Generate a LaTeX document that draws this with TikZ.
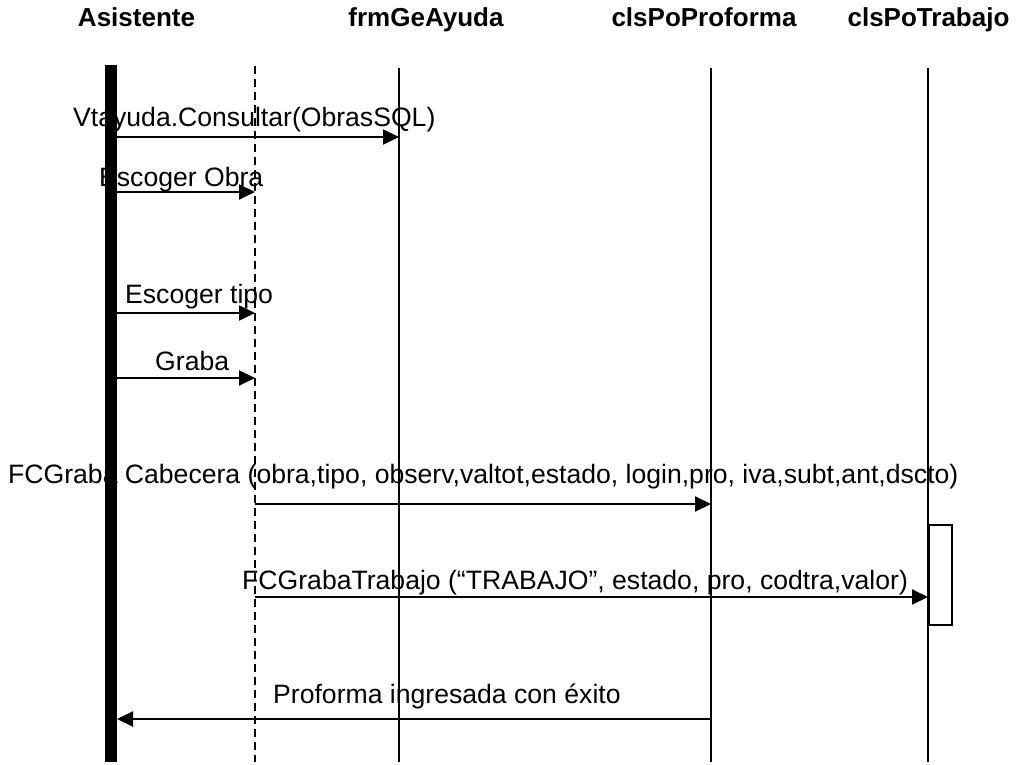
\documentclass[tikz,border=0pt]{standalone}
\usepackage{fontspec}
\setmainfont{Liberation Sans}
\usetikzlibrary{arrows.meta}
\begin{document}
\begin{tikzpicture}[x=1pt,y=-1pt,
  title/.style={font=\fontsize{26}{30}\selectfont\bfseries,anchor=base,inner sep=0pt},
  msg/.style={font=\fontsize{26.6}{30}\selectfont,anchor=base west,inner sep=0pt},
  life/.style={line width=1.5pt},
  dashlife/.style={line width=1.5pt,dash pattern=on 8pt off 5pt},
  call/.style={line width=2pt,-{Triangle[length=16pt,width=15pt]}},
  actbox/.style={draw,line width=1.5pt,fill=white,minimum width=23pt,minimum height=100pt,inner sep=0pt,anchor=north west}]
\useasboundingbox (0,0) rectangle (1021,765);
% titles
\node[title] (tA) at (136.5,27) {Asistente};
\node[title] (tF) at (426,27) {frmGeAyuda};
\node[title] (tP) at (704,27) {clsPoProforma};
\node[title] (tT) at (928.5,27) {clsPoTrabajo};
% message texts
\node[msg] (m1) at (73,127) {Vtayuda.Consultar(ObrasSQL)};
\node[msg] (m2) at (99,186) {Escoger Obra};
\node[msg] (m3) at (125,303) {Escoger tipo};
\node[msg] (m4) at (155,370) {Graba};
\node[msg] (m5) at (8,483) {FCGraba Cabecera (obra,tipo, observ,valtot,estado, login,pro, iva,subt,ant,dscto)};
\node[msg] (m6) at (242,589) {FCGrabaTrabajo (“TRABAJO”, estado, pro, codtra,valor)};
\node[msg] (m7) at (273,703) {Proforma ingresada con éxito};
% lifeline ends
\coordinate (Atop) at (111,65);   \coordinate (Abot) at (111,762);
\coordinate (Dtop) at (255,66);   \coordinate (Dbot) at (255,762);
\coordinate (Ftop) at (399,68);   \coordinate (Fbot) at (399,762);
\coordinate (Ptop) at (711,68);   \coordinate (Pbot) at (711,762);
\coordinate (Ttop) at (928,68);   \coordinate (Tbot) at (928,762);
% lifelines
\draw[dashlife] (Dtop) -- (Dbot);
\draw[life] (Ftop) -- (Fbot);
\draw[life] (Ptop) -- (Pbot);
\draw[life] (Ttop) -- (Tbot);
\draw[line width=12pt] (Atop) -- (Abot);
% activation box
\node[actbox] (act) at (928,524) {};
% message anchors
\coordinate (a1) at (117,137); \coordinate (b1) at (399,137);
\coordinate (a2) at (117,192); \coordinate (b2) at (255,192);
\coordinate (a3) at (117,313); \coordinate (b3) at (255,313);
\coordinate (a4) at (117,378); \coordinate (b4) at (255,378);
\coordinate (a5) at (255,504); \coordinate (b5) at (711,504);
\coordinate (a6) at (255,597); \coordinate (b6) at (928,597);
\coordinate (a7) at (711,719); \coordinate (b7) at (117,719);
% messages
\draw[call] (a1) -- (b1);
\draw[call] (a2) -- (b2);
\draw[call] (a3) -- (b3);
\draw[call] (a4) -- (b4);
\draw[call] (a5) -- (b5);
\draw[call] (a6) -- (b6);
\draw[call] (a7) -- (b7);
\end{tikzpicture}
\end{document}
